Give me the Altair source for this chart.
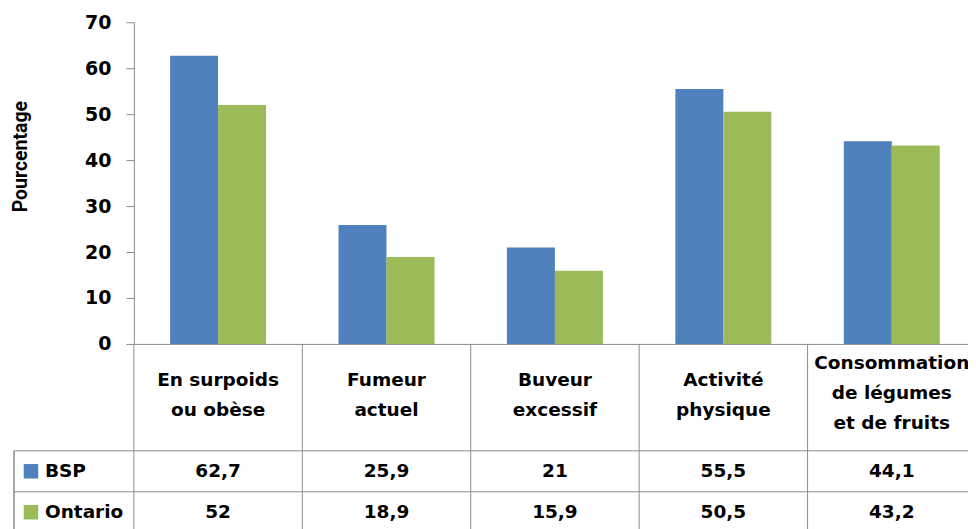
import altair as alt
import pandas as pd

categories = ["En surpoids ou obèse", "Fumeur actuel", "Buveur excessif",
              "Activité physique", "Consommation de légumes et de fruits"]
category_lines = [["En surpoids", "ou obèse"], ["Fumeur", "actuel"], ["Buveur", "excessif"],
                  ["Activité", "physique"], ["Consommation", "de légumes", "et de fruits"]]
series = ["BSP", "Ontario"]
bsp_values = [62.7, 25.9, 21, 55.5, 44.1]
ontario_values = [52, 18.9, 15.9, 50.5, 43.2]
series_colors = ["#4F81BD", "#9BBB59"]
y_ticks = [0, 10, 20, 30, 40, 50, 60, 70]

FONT = "DejaVu Sans"
TITLE_FONT = "Roboto"
GREY = "#8C8C8C"
W = 843

rows_data = []
for s, vals in zip(series, [bsp_values, ontario_values]):
    for c, v in zip(categories, vals):
        rows_data.append({"cat": c, "series": s, "value": v,
                          "label": (f"{v:g}").replace(".", ",")})
df = pd.DataFrame(rows_data)
df_cat = pd.DataFrame({"cat": categories, "lines": category_lines,
                       "n": [len(l) for l in category_lines]})
legend_df = pd.DataFrame({"series": series})

x_scale = alt.Scale(domain=categories, paddingInner=0, paddingOuter=0)
color = alt.Color("series:N", scale=alt.Scale(domain=series, range=series_colors), legend=None)

bars = alt.Chart(df).mark_bar().encode(
    x=alt.X("cat:N", sort=categories, scale=x_scale,
            axis=alt.Axis(title=None, labels=False, ticks=False, grid=False,
                          domainColor=GREY, domainWidth=1)),
    xOffset=alt.XOffset("series:N", sort=series,
                        scale=alt.Scale(domain=series, paddingInner=0, paddingOuter=0.755)),
    y=alt.Y("value:Q", scale=alt.Scale(domain=[0, 70], nice=False, zero=True),
            axis=alt.Axis(values=y_ticks, grid=False, tickSize=8, tickColor=GREY, tickWidth=1,
                          domainColor=GREY, domainWidth=1, labelPadding=15,
                          labelFont=FONT, labelFontSize=19, labelFontWeight="bold",
                          labelColor="black", title="Pourcentage", titleFont=TITLE_FONT,
                          titleFontSize=19.5, titleFontWeight="bold", titleColor="black",
                          titleX=-113, titleY=134, titleBaseline="middle",
                          titleAlign="center", titleAngle=270)),
    color=color,
).properties(width=W, height=322)

# vertical table lines at the start of each category band
def vlines():
    return alt.Chart(df_cat).mark_rule(color=GREY, strokeWidth=1).encode(
        x=alt.X("cat:N", sort=categories, scale=x_scale, bandPosition=0, axis=None))

hdr_x = alt.X("cat:N", sort=categories, scale=x_scale, axis=None)
hdr_style = dict(font=FONT, fontSize=18.5, fontWeight="bold", lineHeight=30,
                 baseline="middle", color="black")
hdr2 = alt.Chart(df_cat).transform_filter("datum.n == 2").mark_text(dy=-17, **hdr_style).encode(
    x=hdr_x, text=alt.Text("lines"))
hdr3 = alt.Chart(df_cat).transform_filter("datum.n == 3").mark_text(dy=-34, **hdr_style).encode(
    x=hdr_x, text=alt.Text("lines"))
header = alt.layer(vlines(), hdr2, hdr3).properties(width=W, height=107)

y_row = alt.Y("series:N", sort=series,
              scale=alt.Scale(domain=series, paddingInner=0, paddingOuter=0), axis=None)

values_text = alt.Chart(df).mark_text(
    font=FONT, fontSize=18.5, fontWeight="bold", baseline="middle", color="black"
).encode(x=alt.X("cat:N", sort=categories, scale=x_scale, axis=None), y=y_row, text="label:N")

hlines = alt.Chart(legend_df).mark_rule(color=GREY, strokeWidth=1).encode(
    y=alt.Y("series:N", sort=series, bandPosition=0,
            scale=alt.Scale(domain=series, paddingInner=0, paddingOuter=0), axis=None),
    x=alt.value(-120), x2=alt.value(W))
legend_sq = alt.Chart(legend_df).mark_square(size=210, opacity=1).encode(
    x=alt.value(-103), y=y_row, color=color)
legend_txt = alt.Chart(legend_df).mark_text(
    font=FONT, fontSize=18.5, fontWeight="bold", baseline="middle", align="left", color="black"
).encode(x=alt.value(-89), y=y_row, text="series:N")
left_border = alt.Chart(legend_df).mark_rule(color=GREY, strokeWidth=1).encode(
    x=alt.value(-120), y=alt.value(0), y2=alt.value(82))

rows = alt.layer(vlines(), hlines, left_border, values_text, legend_sq, legend_txt).properties(
    width=W, height=82)

chart = alt.vconcat(bars, header, rows, spacing=0, bounds="flush").properties(
    padding={"left": 3, "top": 5, "right": -9, "bottom": 0}
).configure_view(stroke=None)

chart.save("out.html", embed_options={"renderer": "svg", "actions": False})
